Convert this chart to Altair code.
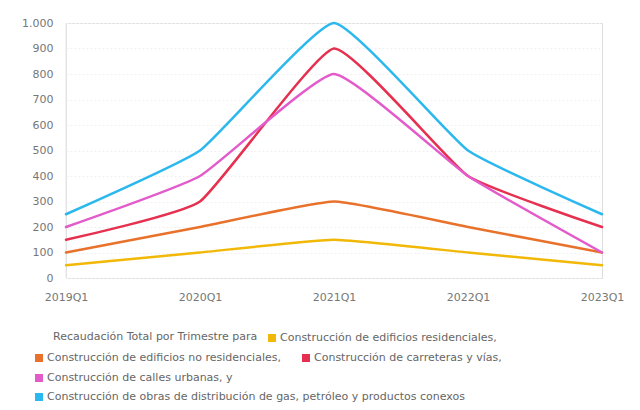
import altair as alt
import pandas as pd

quarters = ["2019Q1", "2020Q1", "2021Q1", "2022Q1", "2023Q1"]
series_names = [
    "Construcción de edificios residenciales",
    "Construcción de edificios no residenciales",
    "Construcción de carreteras y vías",
    "Construcción de calles urbanas",
    "Construcción de obras de distribución de gas, petróleo y productos conexos",
]
residenciales = [50, 100, 150, 100, 50]
no_residenciales = [100, 200, 300, 200, 100]
carreteras = [150, 300, 900, 400, 200]
calles = [200, 400, 800, 400, 100]
gas = [250, 500, 1000, 500, 250]
colors = ["#F2B807", "#E8712B", "#E5304F", "#E35BCB", "#2BB8EE"]

legend_title = "Recaudación Total por Trimestre para"
legend_labels = [
    "Construcción de edificios residenciales,",
    "Construcción de edificios no residenciales,",
    "Construcción de carreteras y vías,",
    "Construcción de calles urbanas, y",
    "Construcción de obras de distribución de gas, petróleo y productos conexos",
]

all_values = [residenciales, no_residenciales, carreteras, calles, gas]
rows = []
for name, vals in zip(series_names, all_values):
    for q, v in zip(quarters, vals):
        rows.append({"Trimestre": q, "Serie": name, "Valor": v})
df = pd.DataFrame(rows)

FONT = "DejaVu Sans"
LFS = 11
W, H = 536, 255
OX, OY = 66, 23  # plot origin in page coordinates

lines = alt.Chart(df).mark_line(interpolate="cardinal", tension=0.6, strokeWidth=2.5,
                                strokeJoin="round", strokeCap="round").encode(
    x=alt.X("Trimestre:N", sort=quarters,
            scale=alt.Scale(type="point", padding=0),
            axis=alt.Axis(title=None, labelAngle=0, ticks=False, domain=False,
                          labelPadding=13, labelColor="#777", labelFont=FONT,
                          labelFontSize=11, grid=False)),
    y=alt.Y("Valor:Q", scale=alt.Scale(domain=[0, 1000]),
            axis=alt.Axis(title=None, values=list(range(0, 1001, 100)),
                          labelExpr="replace(format(datum.value, ','), ',', '.')",
                          ticks=False, domain=False, labelPadding=13,
                          labelColor="#777", labelFont=FONT, labelFontSize=11,
                          grid=True, gridColor="#f0f0f0", gridDash=[2, 2])),
    color=alt.Color("Serie:N", sort=series_names,
                    scale=alt.Scale(domain=series_names, range=colors),
                    legend=None),
)

one = pd.DataFrame({"k": [0]})

yaxis_line = alt.Chart(one).mark_rule(color="#e8e8e8").encode(
    x=alt.value(0), y=alt.value(0), y2=alt.value(H)
)

# custom legend (page coordinates converted to plot-area coordinates)
legend_layers = []
legend_layers.append(
    alt.Chart(one).mark_text(align="left", baseline="middle", font=FONT,
                             fontSize=LFS, color="#666").encode(
        x=alt.value(53 - OX), y=alt.value(337 - OY), text=alt.value(legend_title)
    )
)
item_pos = [(272, 338), (39, 358), (306, 358), (39, 378), (39, 397)]
for (px, py), lab, col in zip(item_pos, legend_labels, colors):
    legend_layers.append(
        alt.Chart(one).mark_square(size=64, color=col, opacity=1).encode(
            x=alt.value(px - OX), y=alt.value(py - OY)
        )
    )
    legend_layers.append(
        alt.Chart(one).mark_text(align="left", baseline="middle", font=FONT,
                                 fontSize=LFS, color="#666").encode(
            x=alt.value(px + 8 - OX), y=alt.value(py - OY), text=alt.value(lab)
        )
    )

chart = alt.layer(yaxis_line, lines, *legend_layers).properties(
    width=W, height=H,
    autosize=alt.AutoSizeParams(type="none"),
    padding={"left": OX - 8, "top": OY - 8, "right": 624 - (OX - 8) - W,
             "bottom": 394 - (OY - 8) - H},
).configure_view(stroke=None).configure(background="white")

chart.save("out.html", embed_options={"renderer": "svg", "actions": False})
